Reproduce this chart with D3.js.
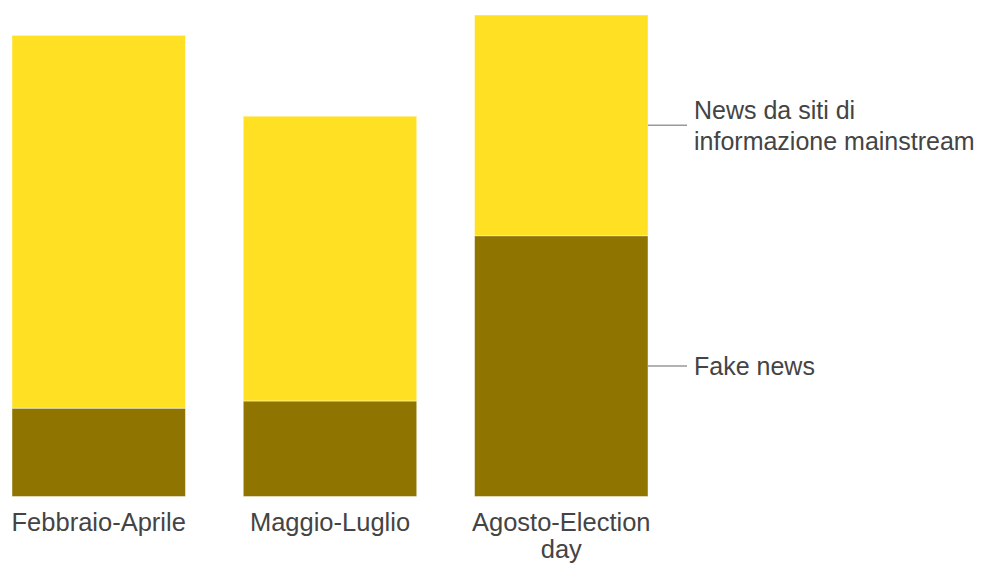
<!DOCTYPE html>
<html>
<head>
<meta charset="utf-8">
<script src="https://cdn.jsdelivr.net/npm/d3@7"></script>
<style>
  body { margin: 0; background: #fff; }
  text { font-family: "Liberation Sans", Arial, sans-serif; fill: #444; }
</style>
</head>
<body>
<script>
var width = 987,
    height = 563;

// engagement, milioni
var categories = ["Febbraio-Aprile", "Maggio-Luglio", "Agosto-Election day"];
var fakeNews = [2.95, 3.19, 8.71];
var mainstream = [12.45, 9.51, 7.37];
var seriesNames = ["Fake news", "News da siti di informazione mainstream"];

var svg = d3.select("body").append("svg")
    .attr("width", width)
    .attr("height", height);

var x = d3.scaleBand()
    .domain(categories)
    .range([12, 648])
    .paddingInner(0.25)
    .paddingOuter(0);

var y = d3.scaleLinear()
    .domain([0, 16.08])
    .range([496.5, 15]);

var color = d3.scaleOrdinal()
    .domain(seriesNames)
    .range(["#8f7400", "#ffe022"]);

var rows = categories.map(function(c, i) {
  return { cat: c, "Fake news": fakeNews[i], "News da siti di informazione mainstream": mainstream[i] };
});
var stack = d3.stack().keys(seriesNames)(rows);

svg.append("g")
  .selectAll("g")
    .data(stack)
  .enter().append("g")
    .attr("fill", function(d) { return color(d.key); })
  .selectAll("rect")
    .data(function(d) { return d; })
  .enter().append("rect")
    .attr("x", function(d) { return x(d.data.cat); })
    .attr("y", function(d) { return y(d[1]); })
    .attr("width", x.bandwidth())
    .attr("height", function(d) { return y(d[0]) - y(d[1]); })
    .attr("stroke", "rgba(255,255,255,0.45)")
    .attr("stroke-width", 1);

// etichette categorie (a capo se troppo lunghe)
var labels = svg.append("g")
  .selectAll("text")
    .data(categories)
  .enter().append("text")
    .attr("x", function(d) { return x(d) + x.bandwidth() / 2; })
    .attr("y", 531)
    .attr("text-anchor", "middle")
    .style("font-size", "25.5px");
labels.each(function(d) {
  var parts = d.length > 16 ? [d.slice(0, d.lastIndexOf(" ")), d.slice(d.lastIndexOf(" ") + 1)] : [d];
  var t = d3.select(this);
  parts.forEach(function(p, i) {
    t.append("tspan")
      .attr("x", x(d) + x.bandwidth() / 2)
      .attr("dy", i === 0 ? 0 : 27)
      .text(p);
  });
});

// legenda a destra dell'ultima barra
var last = stack.map(function(s) { return s[s.length - 1]; });
var lastX = x(categories[categories.length - 1]) + x.bandwidth();
var legendLines = [["Fake news"], ["News da siti di", "informazione mainstream"]];

var leg = svg.append("g")
  .selectAll("g")
    .data(last)
  .enter().append("g")
    .attr("transform", function(d) { return "translate(0," + y((d[0] + d[1]) / 2) + ")"; });

leg.append("line")
    .attr("x1", lastX)
    .attr("x2", lastX + 39)
    .attr("stroke", "#999")
    .attr("stroke-width", 1.5);

leg.append("text")
    .style("font-size", "25px")
    .each(function(d, i) {
      var lines = legendLines[i];
      var t = d3.select(this);
      lines.forEach(function(l, j) {
        t.append("tspan")
          .attr("x", lastX + 46)
          .attr("y", 9 + (j - (lines.length - 1) / 2) * 31)
          .text(l);
      });
    });
</script>
</body>
</html>
